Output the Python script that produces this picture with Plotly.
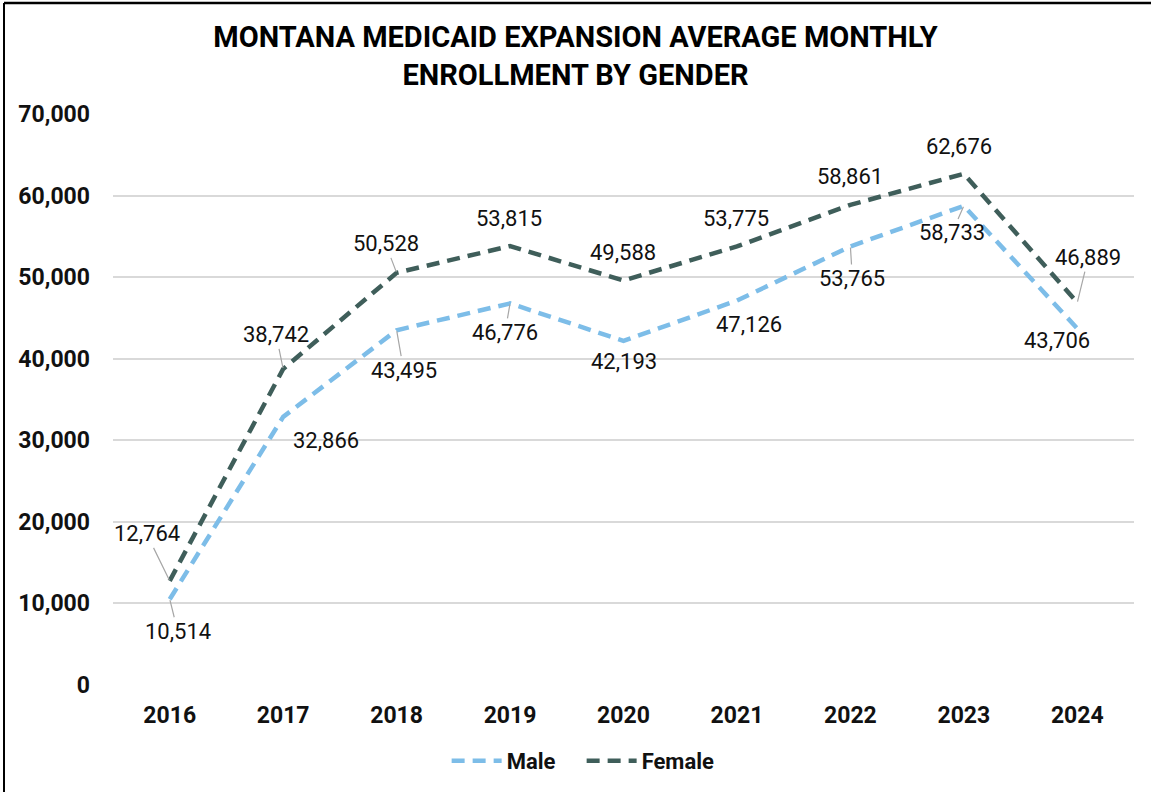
import plotly.graph_objects as go

years = ["2016", "2017", "2018", "2019", "2020", "2021", "2022", "2023", "2024"]
male = [10514, 32866, 43495, 46776, 42193, 47126, 53765, 58733, 43706]
female = [12764, 38742, 50528, 53815, 49588, 53775, 58861, 62676, 46889]

# label offsets in px (dx, dy) and whether a leader line is drawn
male_lbl = [(8, 32, 1), (43, 24, 0), (7, 40, 1), (-5, 29, 1), (0, 21, 0),
            (12, 24, 0), (2, 32, 1), (-12, 27, 1), (-20, 12, 0)]
female_lbl = [(-23, -47, 1), (-7, -34, 1), (-11, -29, 1), (-1, -28, 0), (-1, -28, 0),
              (-1, -28, 0), (0, -28, 0), (-5, -27, 0), (11, -45, 1)]

MALE_C = "#7dbde8"
FEMALE_C = "#3f5e5a"
GRID = "#d9d9d9"
FONT = "Roboto, Arial, sans-serif"

W, H = 1151, 792
ML, MR, MT, MB = 113, 17, 114, 107
PW, PH = W - ML - MR, H - MT - MB

fig = go.Figure()
fig.add_trace(go.Scatter(x=years, y=male, name="Male", mode="lines",
                         line=dict(color=MALE_C, width=4.5, dash="13px,8px")))
fig.add_trace(go.Scatter(x=years, y=female, name="Female", mode="lines",
                         line=dict(color=FEMALE_C, width=4.5, dash="13px,8px")))

anns = []
for vals, offs in ((male, male_lbl), (female, female_lbl)):
    for i, (v, (dx, dy, lead)) in enumerate(zip(vals, offs)):
        anns.append(dict(x=i, y=v, text=f"{v:,}", showarrow=True, ax=dx, ay=dy,
                         arrowhead=0, arrowwidth=1.2, standoff=1,
                         arrowcolor="#a6a6a6" if lead else "rgba(0,0,0,0)",
                         font=dict(size=22, color="#111111", family=FONT)))

# chart border (top and left edges visible)
bx = lambda px: (px - ML) / PW
by = lambda py: 1 - (py - MT) / PH
shapes = [
    dict(type="line", xref="paper", yref="paper", x0=bx(4), x1=bx(W + 5), y0=by(3), y1=by(3),
         line=dict(color="black", width=2.5)),
    dict(type="line", xref="paper", yref="paper", x0=bx(4), x1=bx(4), y0=by(3), y1=by(H + 5),
         line=dict(color="black", width=2)),
]

fig.update_layout(
    width=W, height=H,
    paper_bgcolor="white", plot_bgcolor="white",
    margin=dict(l=ML, r=MR, t=MT, b=MB, autoexpand=False),
    font=dict(family=FONT, color="#111111"),
    title=dict(text="MONTANA MEDICAID EXPANSION AVERAGE MONTHLY<br>ENROLLMENT BY GENDER",
               x=0.5, xanchor="center", xref="container", y=1 - 47 / H, yanchor="top",
               font=dict(size=29, family=FONT, weight="bold", color="#000000")),
    xaxis=dict(type="category", range=[-0.5, 8.5], showgrid=False, zeroline=False, showline=False,
               ticks="", automargin=False,
               tickfont=dict(size=23, weight="bold", color="#111111"), ticklabelstandoff=14),
    yaxis=dict(range=[0, 70000], dtick=10000, tickformat=",", gridcolor=GRID, gridwidth=1.5,
               zeroline=False, showline=False, ticks="", automargin=False,
               tickfont=dict(size=23, weight="bold", color="#111111"), ticklabelstandoff=22),
    legend=dict(orientation="h", x=0.459, xanchor="center", y=-0.133, yanchor="middle",
                font=dict(size=22, weight="bold", color="#111111"),
                itemwidth=50, entrywidth=70, traceorder="normal"),
    annotations=anns, shapes=shapes,
    showlegend=True,
)

fig.write_html("out.html", config={"displayModeBar": False},
               post_script="document.body.style.margin='0';")
